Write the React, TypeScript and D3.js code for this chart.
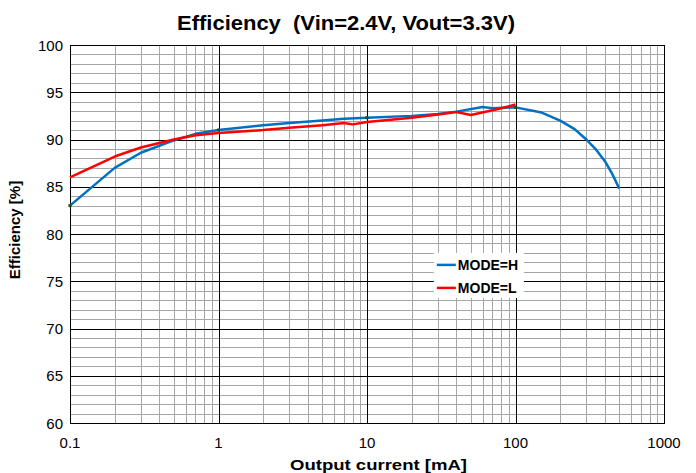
import * as d3 from "d3";
import { useEffect, useRef } from "react";

// MODE=H (blue)
const modeHCurrent = [0.1, 0.2, 0.3, 0.5, 0.7, 1, 2, 3, 5, 7, 10, 20, 30, 40, 60, 70, 100, 150, 200, 250, 300, 350, 400, 450, 500];
const modeHEff = [83.0, 87.0, 88.6, 89.9, 90.6, 91.0, 91.5, 91.75, 92.0, 92.2, 92.3, 92.5, 92.7, 92.95, 93.45, 93.3, 93.4, 92.85, 92.0, 91.1, 90.0, 88.9, 87.7, 86.3, 84.8];

// MODE=L (red)
const modeLCurrent = [0.1, 0.2, 0.3, 0.5, 0.7, 1, 2, 3, 5, 7, 8, 10, 20, 30, 40, 50, 70, 80, 100];
const modeLEff = [86.0, 88.2, 89.15, 90.0, 90.45, 90.7, 91.0, 91.25, 91.5, 91.75, 91.6, 91.85, 92.3, 92.65, 92.9, 92.6, 93.1, 93.3, 93.7];

const xTicks = [0.1, 1, 10, 100, 1000];
const yTicks = [60, 65, 70, 75, 80, 85, 90, 95, 100];
const markerCurrents = [0.1, 1, 10, 100];

export default function App() {
    const ref = useRef<SVGSVGElement>(null);

    useEffect(() => {
        const svg = d3.select(ref.current);
        svg.selectAll("*").remove();

        const margin = { top: 45, right: 32, bottom: 50, left: 70 };
        const width = 696 - margin.left - margin.right;
        const height = 473 - margin.top - margin.bottom;
        const font = "'Liberation Sans', Arial, sans-serif";

        const x = d3.scaleLog().domain([0.1, 1000]).range([0, width]);
        const y = d3.scaleLinear().domain([60, 100]).range([height, 0]);

        const g = svg.append("g").attr("transform", `translate(${margin.left},${margin.top})`);

        // minor grid
        const minorX: number[] = [];
        for (let d = 0.1; d < 1000; d *= 10) {
            for (let k = 2; k <= 9; k++) minorX.push(d * k);
        }
        g.selectAll(".minor-x")
            .data(minorX)
            .enter()
            .append("line")
            .attr("x1", d => Math.round(x(d)) + 0.5)
            .attr("x2", d => Math.round(x(d)) + 0.5)
            .attr("y1", 0)
            .attr("y2", height)
            .attr("stroke", "#a6a6a6");

        const minorY = d3.range(61, 100).filter(v => v % 5 !== 0);
        g.selectAll(".minor-y")
            .data(minorY)
            .enter()
            .append("line")
            .attr("x1", 0)
            .attr("x2", width)
            .attr("y1", d => Math.round(y(d)) + 0.5)
            .attr("y2", d => Math.round(y(d)) + 0.5)
            .attr("stroke", "#a6a6a6");

        // major grid
        g.selectAll(".major-x")
            .data(xTicks)
            .enter()
            .append("line")
            .attr("x1", d => Math.round(x(d)) + 0.5)
            .attr("x2", d => Math.round(x(d)) + 0.5)
            .attr("y1", 0)
            .attr("y2", height)
            .attr("stroke", "#000");

        g.selectAll(".major-y")
            .data(yTicks)
            .enter()
            .append("line")
            .attr("x1", 0)
            .attr("x2", width)
            .attr("y1", d => Math.round(y(d)) + 0.5)
            .attr("y2", d => Math.round(y(d)) + 0.5)
            .attr("stroke", "#000");

        g.append("rect")
            .attr("x", 0.5)
            .attr("y", 0.5)
            .attr("width", width)
            .attr("height", height)
            .attr("fill", "none")
            .attr("stroke", "#000");

        // tick labels
        g.selectAll(".xlabel")
            .data(xTicks)
            .enter()
            .append("text")
            .attr("x", d => x(d))
            .attr("y", height + 25)
            .attr("text-anchor", "middle")
            .attr("font-family", font)
            .attr("font-size", 15)
            .text(d => String(d));

        g.selectAll(".ylabel")
            .data(yTicks)
            .enter()
            .append("text")
            .attr("x", -7)
            .attr("y", d => y(d) + 5.5)
            .attr("text-anchor", "end")
            .attr("font-family", font)
            .attr("font-size", 15)
            .text(d => String(d));

        // lines
        const line = d3.line<[number, number]>()
            .x(d => x(d[0]))
            .y(d => y(d[1]));

        const hData = modeHCurrent.map((c, i) => [c, modeHEff[i]] as [number, number]);
        const lData = modeLCurrent.map((c, i) => [c, modeLEff[i]] as [number, number]);

        g.append("path")
            .datum(hData)
            .attr("d", line)
            .attr("fill", "none")
            .attr("stroke", "#0070c0")
            .attr("stroke-width", 2.5)
            .attr("stroke-linejoin", "round");

        g.append("path")
            .datum(lData)
            .attr("d", line)
            .attr("fill", "none")
            .attr("stroke", "#ff0000")
            .attr("stroke-width", 2.5)
            .attr("stroke-linejoin", "round");

        // small markers on the blue curve
        g.selectAll(".marker")
            .data(markerCurrents)
            .enter()
            .append("rect")
            .attr("x", d => x(d) - 1.5)
            .attr("y", d => y(modeHEff[modeHCurrent.indexOf(d)]) - 1.5)
            .attr("width", 3)
            .attr("height", 3)
            .attr("fill", "#1f4d1f");

        // legend
        const legend = g.append("g").attr("transform", `translate(${x(30) - 4},${y(78)})`);
        legend.append("rect")
            .attr("x", 0)
            .attr("y", 0)
            .attr("width", 90)
            .attr("height", 45)
            .attr("fill", "#fff");
        [["MODE=H", "#0070c0"], ["MODE=L", "#ff0000"]].forEach(([label, color], i) => {
            const ly = 12 + i * 23;
            legend.append("line")
                .attr("x1", 3)
                .attr("x2", 22)
                .attr("y1", ly)
                .attr("y2", ly)
                .attr("stroke", color)
                .attr("stroke-width", 2.5);
            legend.append("text")
                .attr("x", 24)
                .attr("y", ly + 5)
                .attr("font-family", font)
                .attr("font-size", 14)
                .attr("font-weight", "bold")
                .text(label);
        });

        // titles
        svg.append("text")
            .attr("x", 177)
            .attr("y", 30)
            .attr("font-family", font)
            .attr("font-size", 21)
            .attr("font-weight", "bold")
            .attr("textLength", 338)
            .attr("lengthAdjust", "spacingAndGlyphs")
            .attr("xml:space", "preserve")
            .text("Efficiency  (Vin=2.4V, Vout=3.3V)");

        svg.append("text")
            .attr("x", 290)
            .attr("y", 470)
            .attr("font-family", font)
            .attr("font-size", 15)
            .attr("font-weight", "bold")
            .attr("textLength", 177)
            .attr("lengthAdjust", "spacingAndGlyphs")
            .text("Output current  [mA]");

        svg.append("text")
            .attr("transform", `translate(20,230) rotate(-90)`)
            .attr("text-anchor", "middle")
            .attr("font-family", font)
            .attr("font-size", 15)
            .attr("font-weight", "bold")
            .text("Efficiency [%]");
    }, []);

    return (
        <svg
            ref={ref}
            width={696}
            height={473}
            style={{ position: "absolute", left: 0, top: 0, background: "#fff" }}
        />
    );
}
